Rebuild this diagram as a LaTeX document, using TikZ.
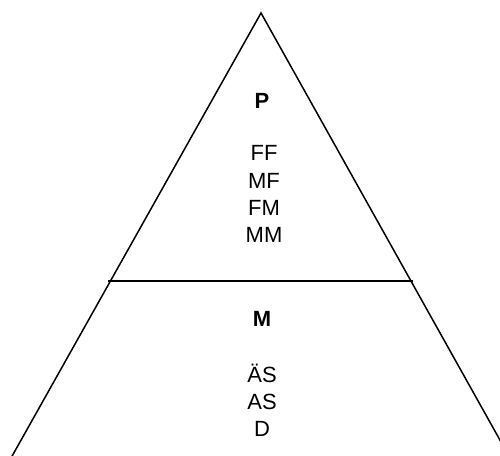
\documentclass[tikz,border=0pt]{standalone}
\usepackage{fontspec}
\setmainfont{Liberation Sans}
\begin{document}
\begin{tikzpicture}[x=1pt,y=-1pt,
  side/.style={line width=1.5pt,line cap=round},
  divider/.style={line width=2.5pt},
  lbl/.style={inner sep=0pt,anchor=center,font=\fontsize{22}{26}\selectfont},
  head/.style={lbl,font=\fontsize{22}{26}\selectfont\bfseries}]
\useasboundingbox (0,0) rectangle (500,455);
\clip (0,0) rectangle (500,455);
\coordinate (apex) at (261,13);
\coordinate (bl) at (11,458);
\coordinate (br) at (510,458);
\coordinate (hl) at (108,281);
\coordinate (hr) at (413,281);
\draw[side] (bl) -- (apex) -- (br);
\draw[divider] (hl) -- (hr);
\node[head] (p) at (262,101) {P};
\node[lbl] (ff) at (264,153) {FF};
\node[lbl] (mf) at (264,181) {MF};
\node[lbl] (fm) at (264,208) {FM};
\node[lbl] (mm) at (264,235) {MM};
\node[head] (m) at (262,319) {M};
\node[lbl,anchor=base] (as1) at (262,382) {ÄS};
\node[lbl,anchor=base] (as2) at (262,409) {AS};
\node[lbl,anchor=base] (d) at (262,436) {D};
\end{tikzpicture}
\end{document}
